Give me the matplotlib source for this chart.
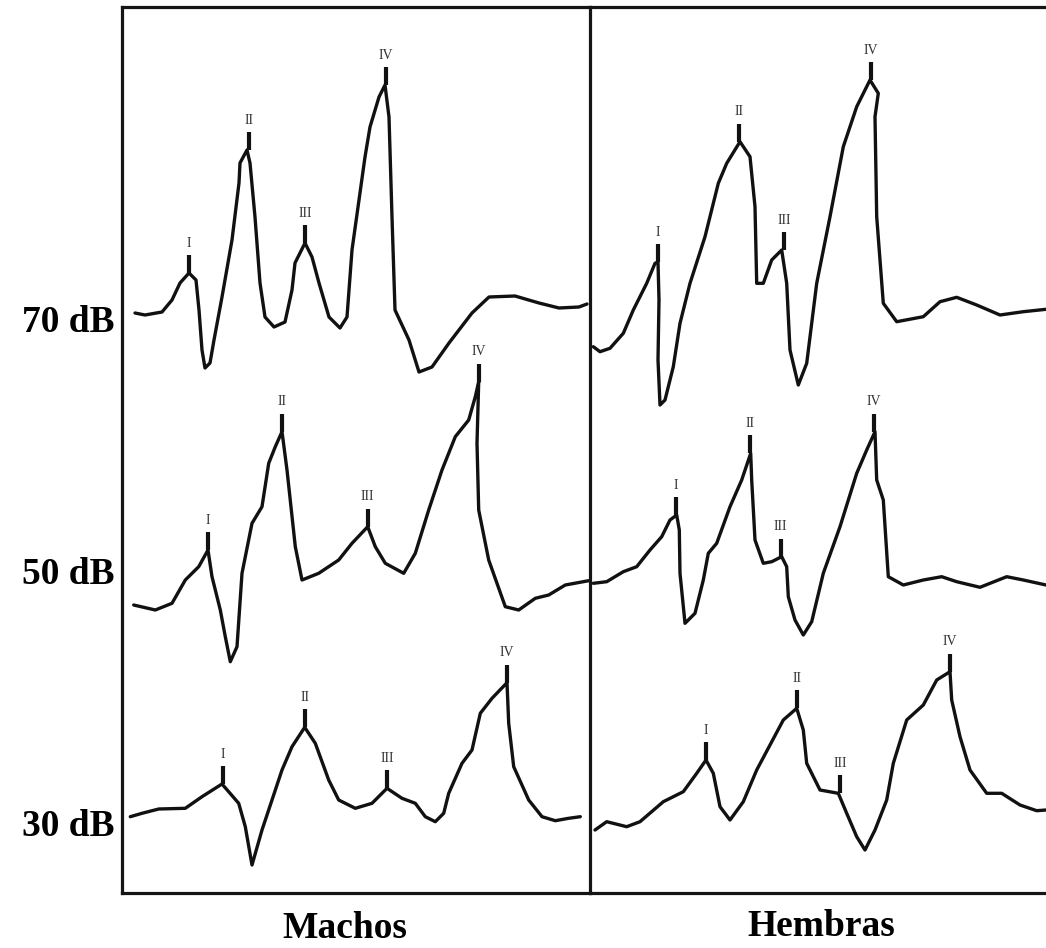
import numpy as np
import matplotlib
matplotlib.use("Agg")
import matplotlib.pyplot as plt

# baseline of each stimulus level (pixels from the bottom of the figure)
levels = ["70 dB", "50 dB", "30 dB"]
baselines = [626, 373, 122]

# Machos (left panel): time along the sweep and amplitude above baseline
m70_t = [13, 23, 40, 50, 58, 67, 74, 77, 80, 83, 88, 92, 100, 110, 117, 118, 125, 128, 133, 138, 143,
         152, 163, 170, 173, 183, 190, 197, 207, 218, 225, 230, 237, 243, 248, 257, 263, 267, 270, 273,
         287, 297, 310, 327, 350, 367, 393, 417, 437, 457, 465]
m70_a = [9, 7, 10, 22, 39, 49, 42, 12, -28, -46, -41, -18, 25, 82, 139, 159, 172, 159, 105, 39, 5,
         -5, 0, 32, 59, 79, 65, 39, 5, -6, 5, 72, 122, 165, 195, 225, 237, 205, 105, 12,
         -18, -50, -45, -21, 9, 25, 26, 19, 14, 15, 18]
m50_t = [11.7, 33.3, 50, 63.3, 76.7, 86, 90, 98.3, 103.3, 108.3, 115, 120, 130, 140, 146.7, 153.3, 160,
         165, 173.3, 180, 196.7, 216.7, 230, 245.7, 253.3, 263.3, 281.7, 293.3, 306.7, 320, 333.3,
         346.7, 353.3, 356.7, 355, 356.7, 366.7, 383.3, 396.7, 413.3, 426.7, 443.3, 466.7]
m50_a = [-30, -35, -28.3, -5, 8.3, 25, -1.7, -35, -61.7, -86.7, -71.7, 1.7, 51.7, 68.3, 111.7, 128.3,
         143.3, 105, 28.3, -5, 1.7, 15, 31.7, 48.3, 28.3, 11.7, 1.7, 21.7, 65, 105, 138.3, 155, 178.3,
         193.3, 131.7, 65, 15, -31.7, -35, -23.3, -20, -10, -5.7]
m30_t = [8.3, 20, 36.7, 63.3, 80, 100, 116.7, 123.3, 130, 140, 150, 160, 170, 182.7, 193.3, 206.7, 216.7,
         233.3, 250, 265, 280, 293.3, 303.3, 313.3, 321.7, 326.7, 340, 350, 358.3, 370, 385, 386.7,
         391.7, 406.7, 420, 433.3, 446.7, 458.3]
m30_a = [9.3, 12.7, 17, 17.7, 29.3, 42, 22.7, -0.7, -39, -4, 26, 56, 79.3, 98.7, 82.7, 46, 26, 17.7,
         22.7, 37.7, 27.7, 22.7, 9.3, 4.3, 12.7, 32.7, 62.7, 76, 112.7, 127.7, 143.3, 102.7, 59.3, 26,
         9.3, 5.3, 7.7, 9.3]

# Hembras (right panel)
h70_t = [3.3, 10, 20, 33.3, 43.3, 56.7, 65, 68, 69, 68, 70, 75, 83.3, 90, 100, 115, 128.3, 136.7, 150,
         160, 165, 166.7, 173.3, 181.7, 191.7, 196.7, 200, 208.3, 216.7, 226.7, 240, 253.3, 266.7, 280,
         288.3, 285, 286.7, 293.3, 306.7, 333.3, 350, 366.7, 386.7, 410, 433.3, 456]
h70_a = [-24.7, -29.7, -26.3, -11.3, 12, 38.7, 58.7, 60, 22, -38, -83, -78, -44.7, -1.3, 38.7, 85.3,
         138.7, 158.7, 180.3, 165.3, 115.3, 38.7, 38.7, 62, 72, 38.7, -28, -63, -41.3, 38.7, 105.3,
         175.3, 215.3, 242, 228.7, 205.3, 105.3, 18.7, 0.3, 5.3, 20.3, 24.7, 17, 7, 10.3, 12.7]
h50_t = [3.3, 16.7, 33.3, 46.7, 60, 71.7, 80, 86.7, 89.3, 90, 95, 105, 113.3, 118.3, 126.7, 140, 151.7,
         160.7, 161.7, 165, 173.3, 181.7, 191.7, 196.7, 198.3, 205, 213.3, 221.7, 233.3, 250, 266.7,
         276.7, 285, 286.7, 293.3, 298.3, 313.3, 333.3, 351.7, 366.7, 390, 416.7, 433.3, 456]
h50_a = [-8.3, -6.7, 3.3, 8.3, 25, 38.3, 55, 60, 45, 1.7, -48.3, -38.3, -5, 21.7, 31.7, 68.3, 95, 121.7,
         95, 35, 11.7, 13.3, 18.3, 8.3, -21.7, -45, -60, -46.7, 1.7, 48.3, 101.7, 125, 143.3, 95, 75,
         -1.7, -10, -5, -1.7, -6.7, -12.3, -1.7, -5, -10]
h30_t = [5, 16.7, 36.7, 50, 73.3, 93.3, 106.7, 116, 123.3, 130, 140, 153.3, 166.7, 180, 193.3, 206.7,
         213.3, 216.7, 230, 248.3, 256.7, 266.7, 275, 285, 296.7, 303.3, 316.7, 333.3, 346.7, 360, 361.7,
         370, 380, 396.7, 411.7, 430, 446.7, 456]
h30_a = [-4, 4.3, -0.7, 4.3, 24.3, 34.3, 52.7, 66, 52.7, 19.3, 6, 24.3, 56, 81, 106, 117.7, 96, 62.7,
         36, 32.7, 12.7, -10.7, -24, -4, 26, 62.7, 106, 121, 146, 154.3, 126, 89.3, 56, 32.7, 32.7, 21,
         15.3, 16]

# latency of the marked waves I-IV
wave_names = ["I", "II", "III", "IV"]
m_peaks = [[67, 127, 183, 264], [86, 160, 245.7, 356.7], [101, 182.7, 265, 385]]
h_peaks = [[68, 149, 194, 281], [86, 160, 190.7, 284], [116, 206.7, 250, 360]]

machos = [(m70_t, m70_a), (m50_t, m50_a), (m30_t, m30_a)]
hembras = [(h70_t, h70_a), (h50_t, h50_a), (h30_t, h30_a)]

W, H = 1046, 948
fig = plt.figure(figsize=(W / 100, H / 100), dpi=100)
fig.patch.set_facecolor("white")

ax_m = fig.add_axes([122 / W, 55 / H, 468 / W, 886 / H])
ax_h = fig.add_axes([590 / W, 55 / H, 456 / W, 886 / H])

serif = ["Liberation Serif", "DejaVu Serif"]

for ax, traces, peaks, width in [(ax_m, machos, m_peaks, 468), (ax_h, hembras, h_peaks, 456)]:
    ax.set_xlim(0, width)
    ax.set_ylim(55, 941)
    ax.set_xticks([])
    ax.set_yticks([])
    for sp in ax.spines.values():
        sp.set_linewidth(2.3)
        sp.set_color("#151515")
    for (t, a), base, pk in zip(traces, baselines, peaks):
        t = np.array(t)
        a = np.array(a)
        ax.plot(t, base + a, color="#111111", lw=2.4, solid_joinstyle="round", solid_capstyle="round")
        for name, tp in zip(wave_names, pk):
            # nearest sampled point under the marker, highest if several
            near = np.abs(t - tp) < 4
            yp = base + (a[near].max() if near.any() else a[np.argmin(np.abs(t - tp))])
            ax.plot([tp, tp], [yp, yp + 18], color="#111111", lw=3, solid_capstyle="butt")
            ax.text(tp, yp + 30, name, ha="center", va="center", fontsize=10,
                    family=serif, color="#333333")

ax_m.spines["right"].set_visible(False)
ax_h.spines["right"].set_visible(False)

for lab, base in zip(levels, baselines):
    ax_m.text(-7, base, lab, ha="right", va="center", fontsize=27, fontweight="bold",
              family=serif, clip_on=False)

ax_m.text(345 - 122, 20, "Machos", ha="center", va="center", fontsize=27, fontweight="bold",
          family=serif, clip_on=False)
ax_h.text(821 - 590, 22, "Hembras", ha="center", va="center", fontsize=27, fontweight="bold",
          family=serif, clip_on=False)

fig.savefig("out.png", dpi=100, facecolor="white")
